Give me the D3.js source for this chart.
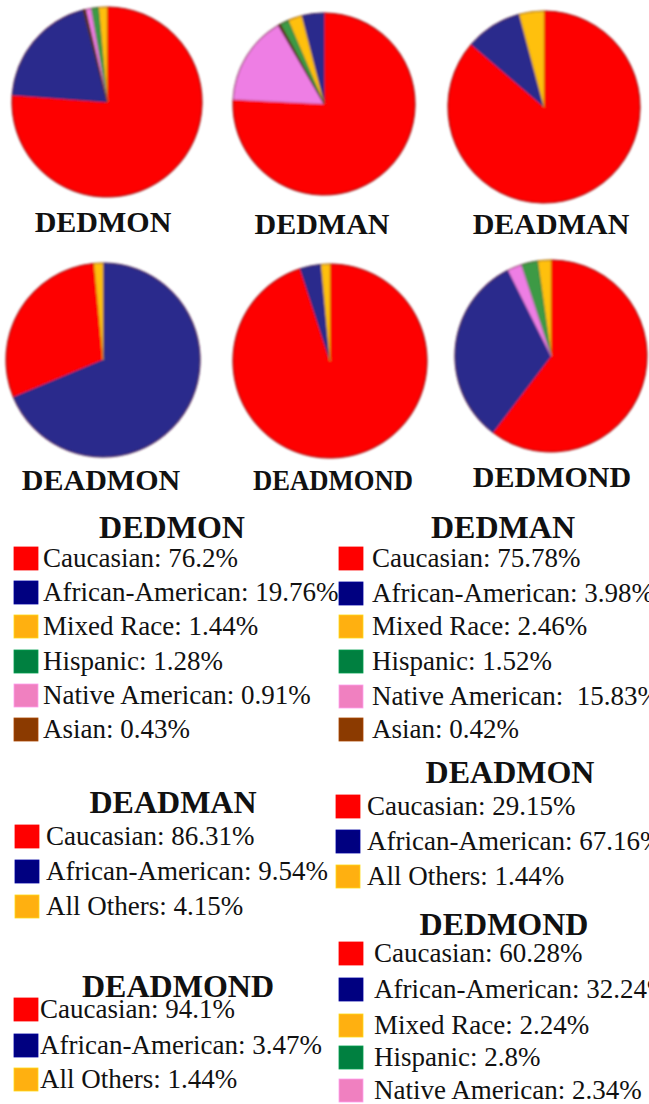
<!DOCTYPE html>
<html>
<head>
<meta charset="utf-8">
<script src="https://cdn.jsdelivr.net/npm/d3@7"></script>
<style>
  html, body { margin: 0; padding: 0; background: #ffffff; }
  svg { display: block; }
  text { font-family: "Liberation Serif", "Times New Roman", Times, "DejaVu Serif", serif; }
</style>
</head>
<body>
<svg id="chart" width="649" height="1104"></svg>
<script>
// Surname ethnicity breakdowns (percent of bearers)
const surnames = ["DEDMON", "DEDMAN", "DEADMAN", "DEADMON", "DEADMOND", "DEDMOND"];

const dedmonGroups = ["Caucasian", "African-American", "Mixed Race", "Hispanic", "Native American", "Asian"];
const dedmonValues = [76.2, 19.76, 1.44, 1.28, 0.91, 0.43];

const dedmanGroups = ["Caucasian", "African-American", "Mixed Race", "Hispanic", "Native American", "Asian"];
const dedmanValues = [75.78, 3.98, 2.46, 1.52, 15.83, 0.42];

const deadmanGroups = ["Caucasian", "African-American", "All Others"];
const deadmanValues = [86.31, 9.54, 4.15];

const deadmonGroups = ["Caucasian", "African-American", "All Others"];
const deadmonValues = [29.15, 67.16, 1.44];

const deadmondGroups = ["Caucasian", "African-American", "All Others"];
const deadmondValues = [94.1, 3.47, 1.44];

const dedmondGroups = ["Caucasian", "African-American", "Mixed Race", "Hispanic", "Native American"];
const dedmondValues = [60.28, 32.24, 2.24, 2.8, 2.34];

// Clockwise order in which each pie lays out its slices, starting at 12 o'clock
const dedmonSliceOrder = ["Caucasian", "African-American", "Asian", "Native American", "Hispanic", "Mixed Race"];
const dedmanSliceOrder = ["Caucasian", "Native American", "Asian", "Hispanic", "Mixed Race", "African-American"];
const deadmanSliceOrder = ["Caucasian", "African-American", "All Others"];
const deadmonSliceOrder = ["African-American", "Caucasian", "All Others"];
const deadmondSliceOrder = ["Caucasian", "African-American", "All Others"];
const dedmondSliceOrder = ["Caucasian", "African-American", "Native American", "Hispanic", "Mixed Race"];

const dataSets = {
  DEDMON:   { groups: dedmonGroups,   values: dedmonValues,   order: dedmonSliceOrder },
  DEDMAN:   { groups: dedmanGroups,   values: dedmanValues,   order: dedmanSliceOrder },
  DEADMAN:  { groups: deadmanGroups,  values: deadmanValues,  order: deadmanSliceOrder },
  DEADMON:  { groups: deadmonGroups,  values: deadmonValues,  order: deadmonSliceOrder },
  DEADMOND: { groups: deadmondGroups, values: deadmondValues, order: deadmondSliceOrder },
  DEDMOND:  { groups: dedmondGroups,  values: dedmondValues,  order: dedmondSliceOrder }
};

// Colours: pie fills are a touch softer than the legend swatches
const allGroups = ["Caucasian", "African-American", "Mixed Race", "Hispanic", "Native American", "Asian", "All Others"];
const pieColor = d3.scaleOrdinal().domain(allGroups)
  .range(["#fe0000", "#2c2c8c", "#ffc010", "#3d9a45", "#ee7ee4", "#5a3214", "#ffc010"]);
const swatchColor = d3.scaleOrdinal().domain(allGroups)
  .range(["#ff0000", "#000080", "#ffb010", "#008040", "#f080c0", "#8b3a00", "#ffb010"]);

const svg = d3.select("#chart");

const defs = svg.append("defs");
defs.append("filter").attr("id", "soft")
  .attr("x", "-5%").attr("y", "-5%").attr("width", "110%").attr("height", "110%")
  .append("feGaussianBlur").attr("stdDeviation", 0.8);

// ---------- pies ----------
const pieLayout = [
  { name: "DEDMON",   cx: 107, cy: 102, r: 95, lx: 103, ly: 232 },
  { name: "DEDMAN",   cx: 324, cy: 104, r: 91, lx: 322, ly: 234 },
  { name: "DEADMAN",  cx: 544, cy: 107, r: 96, lx: 551, ly: 234 },
  { name: "DEADMON",  cx: 103, cy: 360, r: 97, lx: 101, ly: 490 },
  { name: "DEADMOND", cx: 330, cy: 361, r: 97, lx: 333, ly: 490, labelWidth: 160 },
  { name: "DEDMOND",  cx: 551, cy: 356, r: 96, lx: 552, ly: 487 }
];

pieLayout.forEach(p => {
  const ds = dataSets[p.name];
  const rows = ds.groups.map((g, i) => ({ group: g, value: ds.values[i] }));
  const pie = d3.pie()
    .value(d => d.value)
    .sort((a, b) => ds.order.indexOf(a.group) - ds.order.indexOf(b.group));
  const arc = d3.arc().innerRadius(0).outerRadius(p.r);

  const g = svg.append("g")
    .attr("transform", `translate(${p.cx},${p.cy})`)
    .attr("filter", "url(#soft)");

  g.selectAll("path")
    .data(pie(rows))
    .join("path")
    .attr("d", arc)
    .attr("fill", d => pieColor(d.data.group))
    .attr("stroke", d => d3.color(pieColor(d.data.group)).darker(0.6))
    .attr("stroke-width", 0.8);

  g.append("circle")
    .attr("r", p.r)
    .attr("fill", "none")
    .attr("stroke", "rgba(90,0,0,0.45)")
    .attr("stroke-width", 1.2);

  const label = svg.append("text")
    .attr("x", p.lx)
    .attr("y", p.ly)
    .attr("text-anchor", "middle")
    .attr("font-weight", "bold")
    .attr("font-size", 30)
    .attr("fill", "#111")
    .text(p.name);
  if (p.labelWidth) {
    label.attr("textLength", p.labelWidth).attr("lengthAdjust", "spacingAndGlyphs");
  }
});

// ---------- legends ----------
const legendLayout = [
  { name: "DEDMON",   tx: 172, ty: 538, sx: 14,  x: 43,  baselines: [567, 601, 635, 670, 704, 738] },
  { name: "DEDMAN",   tx: 503, ty: 538, sx: 339, x: 372, baselines: [567, 602, 635, 670, 705, 738] },
  { name: "DEADMAN",  tx: 173, ty: 813, sx: 15,  x: 46,  baselines: [845, 880, 915] },
  { name: "DEADMON",  tx: 510, ty: 783, sx: 336, x: 367, baselines: [815, 850, 885] },
  { name: "DEDMOND",  tx: 504, ty: 935, sx: 339, x: 374, baselines: [962, 998, 1034, 1066, 1099] },
  { name: "DEADMOND", tx: 178, ty: 997, sx: 14,  x: 40,  baselines: [1018, 1054, 1088] }
];

const fmtLabel = (group, value) =>
  group === "Native American" && value > 10 ? `${group}:  ${value}%` : `${group}: ${value}%`;

legendLayout.forEach(L => {
  const ds = dataSets[L.name];
  const lg = svg.append("g");

  lg.append("text")
    .attr("x", L.tx)
    .attr("y", L.ty)
    .attr("text-anchor", "middle")
    .attr("font-weight", "bold")
    .attr("font-size", 32)
    .attr("fill", "#111")
    .text(L.name);

  const items = lg.selectAll("g.item")
    .data(ds.groups.map((g, i) => ({ group: g, value: ds.values[i], y: L.baselines[i] })))
    .join("g")
    .attr("class", "item");

  items.append("rect")
    .attr("x", L.sx)
    .attr("y", d => d.y - 20)
    .attr("width", 24)
    .attr("height", 23)
    .attr("fill", d => swatchColor(d.group))
    .attr("stroke", d => d3.color(swatchColor(d.group)).brighter(0.6))
    .attr("stroke-width", 0.8);

  items.append("text")
    .attr("x", L.x)
    .attr("y", d => d.y)
    .attr("font-size", 27)
    .attr("fill", "#111")
    .style("white-space", "pre")
    .text(d => fmtLabel(d.group, d.value));
});
</script>
</body>
</html>
